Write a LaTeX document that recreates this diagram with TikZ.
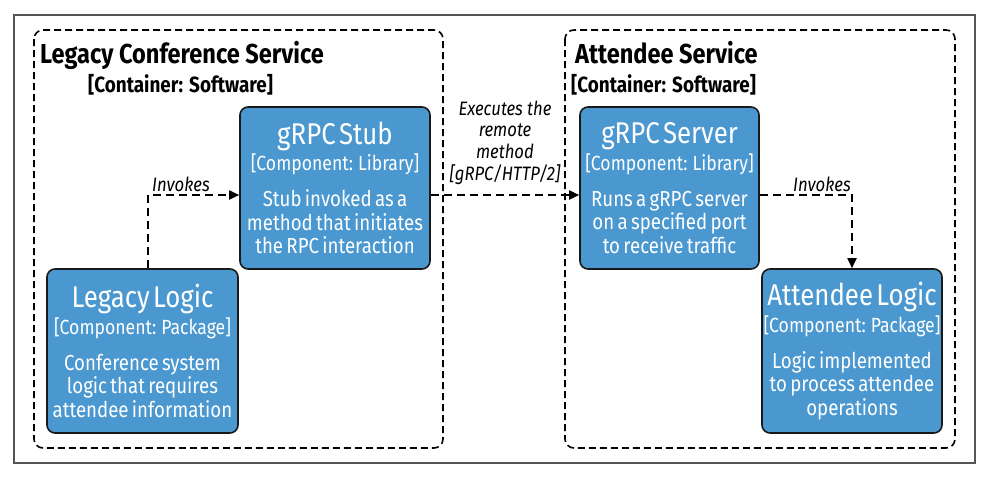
\documentclass[tikz,border=0pt]{standalone}
\usepackage{fontspec}
\setmainfont{Fira Sans}[FakeStretch=0.86]
\usetikzlibrary{arrows.meta}
\definecolor{boxblue}{HTML}{4A98CF}
\definecolor{framegray}{HTML}{555555}
\newcommand\compbody[3]{{\fontsize{30}{32}\selectfont #1\par}{\fontsize{20.5}{26.5}\selectfont #2\par}\vspace{12.5pt}{\fontsize{21.7}{23.5}\selectfont #3\par}}
\tikzset{
  comp/.style={draw=black!90, line width=1.6pt, fill=boxblue, rounded corners=8pt, text=white, align=center, inner xsep=1pt, inner ysep=0pt},
  container/.style={draw=black, line width=1.6pt, dash pattern=on 7pt off 4pt, rounded corners=9pt},
  conn/.style={draw=black, line width=1.8pt, dash pattern=on 8pt off 5pt, -{Stealth[length=10pt,width=9pt,inset=0pt]}},
  lbl/.style={font=\fontsize{19.4}{21.6}\selectfont\itshape, inner sep=0pt, align=center},
  ctitle/.style={font=\fontsize{27.4}{30}\selectfont\bfseries, inner sep=0pt, anchor=base west},
  csub/.style={font=\fontsize{22}{25}\selectfont\bfseries, inner sep=0pt, anchor=base west},
}
\begin{document}
\begin{tikzpicture}[x=1pt,y=-1pt]
\useasboundingbox (0,0) rectangle (983,477);
\draw[framegray, line width=1.2pt] (14,15) rectangle (975,463);
% containers
\draw[container] (34,30) rectangle (443,448);
\draw[container] (565,30) rectangle (955,448);
\node[ctitle] (t1) at (40,63) {Legacy Conference Service};
\node[csub] (s1) at (88,92) {[Container: Software]};
\node[ctitle] (t2) at (575,63) {Attendee Service};
\node[csub] (s2) at (571,92) {[Container: Software]};
% components
\node[comp, text width=188pt, minimum height=162pt] (stub) at (335,188)
  {\compbody{gRPC Stub}{[Component: Library]}{Stub invoked as a\\method that initiates\\the RPC interaction}};
\node[comp, text width=189pt, minimum height=164pt] (legacy) at (142.5,351)
  {\compbody{Legacy Logic}{[Component: Package]}{Conference system\\logic that requires\\attendee information}};
\node[comp, text width=177pt, minimum height=162pt] (server) at (669.5,188)
  {\compbody{gRPC Server}{[Component: Library]}{Runs a gRPC server\\on a specified port\\to receive traffic}};
\node[comp, text width=178pt, minimum height=164pt] (attendee) at (852,351)
  {\compbody{Attendee Logic}{[Component: Package]}{Logic implemented\\to process attendee\\operations}};
% connectors
\draw[conn] ([xshift=5.5pt]legacy.north) |- ([yshift=-7pt]stub.west);
\node[lbl] (l1) at (181,184) {Invokes};
\draw[conn] ([yshift=-7pt]stub.east) -- ([yshift=-7pt]server.west);
\node[lbl, anchor=base] (l2) at (505,180) {Executes the\\remote\\method\\{}[gRPC/HTTP/2]};
\draw[conn] ([yshift=-7pt]server.east) -| (attendee.north);
\node[lbl] (l3) at (822,184) {Invokes};
\end{tikzpicture}
\end{document}
